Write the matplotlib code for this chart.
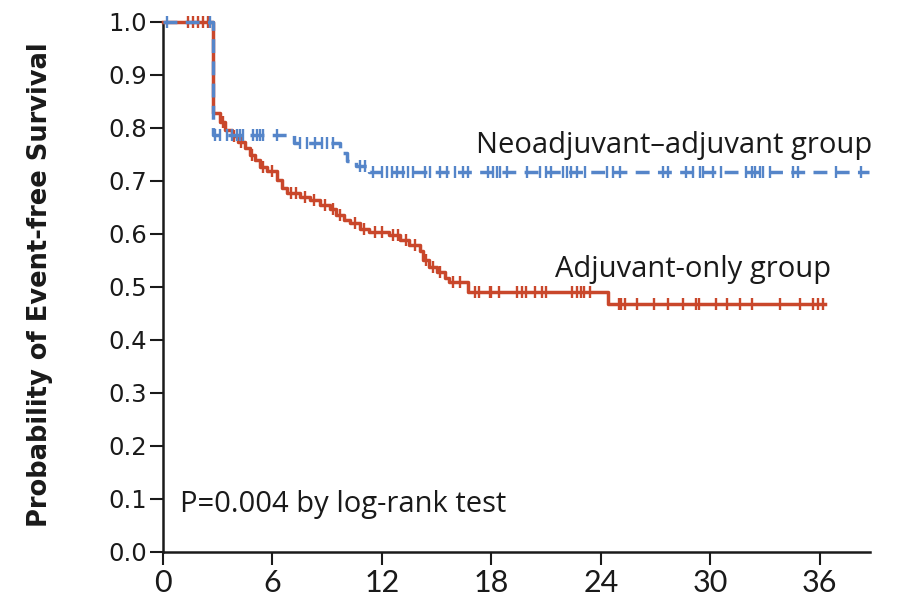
import numpy as np
import matplotlib
matplotlib.use("Agg")
import matplotlib.pyplot as plt

# Kaplan-Meier step curves (months, survival probability)
red_times = [0, 2.72, 3.12, 3.4, 3.76, 4.13, 4.5, 4.77, 5.04, 5.32, 5.68, 6.23, 6.5,
             6.78, 7.5, 8.05, 8.6, 9.15, 9.5, 9.9, 10.25, 10.8, 11.3, 12.4, 13.0,
             13.5, 14.1, 14.26, 14.6, 15.0, 15.45, 15.7, 16.7, 24.4, 36.3]
red_surv = [1.0, 0.828, 0.812, 0.796, 0.784, 0.774, 0.762, 0.749, 0.74, 0.727, 0.718,
            0.702, 0.686, 0.677, 0.67, 0.664, 0.655, 0.648, 0.636, 0.626, 0.62, 0.61,
            0.604, 0.598, 0.589, 0.579, 0.567, 0.551, 0.538, 0.529, 0.516, 0.51,
            0.491, 0.468, 0.468]

blue_times = [0, 2.76, 7.2, 9.7, 10.1, 10.6, 11.3, 38.7]
blue_surv = [1.0, 0.787, 0.771, 0.753, 0.738, 0.728, 0.716, 0.716]

# censored observations
red_censor = [1.39, 1.66, 1.93, 2.21, 2.48, 3.3, 3.9, 4.3, 4.9, 5.5, 6.0, 7.0, 7.3,
              7.8, 8.3, 8.9, 9.3, 9.7, 10.5, 11.0, 11.6, 12.0, 12.6, 12.9, 13.3,
              13.8, 14.4, 14.8, 15.2, 15.9, 16.3, 17.1, 17.3, 17.9, 18.0, 18.4,
              19.4, 19.7, 19.9, 20.4, 20.75, 21.0, 22.4, 22.7, 22.9, 23.1, 23.4,
              25.0, 25.1, 25.3, 26.0, 26.9, 27.7, 28.5, 29.2, 29.4, 30.3, 30.9,
              31.6, 32.3, 33.8, 34.9, 35.6, 35.9, 36.2]
blue_censor = [0.2, 2.6, 2.85, 3.12, 3.49, 3.76, 4.04, 4.22, 4.4, 4.95, 5.13, 5.32,
               5.5, 6.23, 7.5, 7.87, 8.33, 8.7, 8.97, 9.33, 10.8, 11.07, 11.5, 12.0,
               12.26, 12.53, 12.8, 13.17, 13.44, 13.72, 14.36, 14.63, 15.18, 15.55,
               16.0, 16.46, 16.73, 17.83, 18.1, 18.29, 18.47, 18.83, 19.93, 20.66,
               21.02, 21.29, 21.93, 22.12, 22.39, 22.67, 23.12, 24.31, 24.68, 25.04,
               27.41, 27.69, 28.69, 29.06, 29.42, 29.61, 30.15, 30.61, 31.98, 32.26,
               32.44, 32.71, 32.9, 33.26, 34.54, 34.81, 36.91, 38.28]

x_ticks = [0, 6, 12, 18, 24, 30, 36]
y_ticks = [0.0, 0.1, 0.2, 0.3, 0.4, 0.5, 0.6, 0.7, 0.8, 0.9, 1.0]

RED = "#C9472B"
BLUE = "#5585C9"
INK = "#1a1a1a"


def surv_at(times, surv, t):
    t = np.asarray(t)
    idx = np.searchsorted(times, t, side="right") - 1
    return np.asarray(surv)[idx]


fig = plt.figure(figsize=(9.02, 6.02), dpi=100)
ax = fig.add_axes([0.1807, 0.0831, 0.7838, 0.8804])

lw = 2.5
ax.plot(red_times, red_surv, drawstyle="steps-post", color=RED, lw=lw,
        clip_on=False, zorder=3)
ax.plot(red_censor, surv_at(red_times, red_surv, red_censor), ls="none",
        marker="|", ms=8.5, mew=1.7, color=RED, clip_on=False, zorder=3)

ax.plot(blue_times, blue_surv, drawstyle="steps-post", color=BLUE, lw=lw,
        ls=(0, (4.0, 2.4)), clip_on=False, zorder=4)
ax.plot(blue_censor, surv_at(blue_times, blue_surv, blue_censor), ls="none",
        marker="|", ms=8.5, mew=1.7, color=BLUE, clip_on=False, zorder=4)

ax.set_xlim(0, 38.75)
ax.set_ylim(0, 1.0)

for side in ("top", "right"):
    ax.spines[side].set_visible(False)
for side in ("left", "bottom"):
    ax.spines[side].set_linewidth(1.8)
    ax.spines[side].set_color(INK)

ax.set_xticks(x_ticks)
ax.set_xticklabels([str(v) for v in x_ticks], family="Lato", fontsize=22)
ax.set_yticks(y_ticks)
ax.set_yticklabels(["%.1f" % v for v in y_ticks], family="DejaVu Sans", fontsize=17.5)
ax.tick_params(axis="both", direction="out", length=9.5, width=1.5, color=INK,
               labelcolor=INK)
ax.tick_params(axis="x", pad=3)
ax.tick_params(axis="y", pad=2)

ax.set_ylabel("Probability of Event-free Survival", family="DejaVu Sans",
              fontweight="bold", fontsize=18.5, color=INK)
ax.yaxis.set_label_coords(-0.155, 0.505)

txt_font = ["Open Sans", "DejaVu Sans"]
ax.text(17.15, 0.753, "Neoadjuvant\u2013adjuvant group", family=txt_font,
        fontsize=21, color=INK, ha="left", va="baseline")
ax.text(21.48, 0.519, "Adjuvant-only group", family=txt_font,
        fontsize=21, color=INK, ha="left", va="baseline")
ax.text(0.93, 0.075, "P=0.004 by log-rank test", family=txt_font,
        fontsize=21, color=INK, ha="left", va="baseline")

fig.savefig("out.png", dpi=100)
